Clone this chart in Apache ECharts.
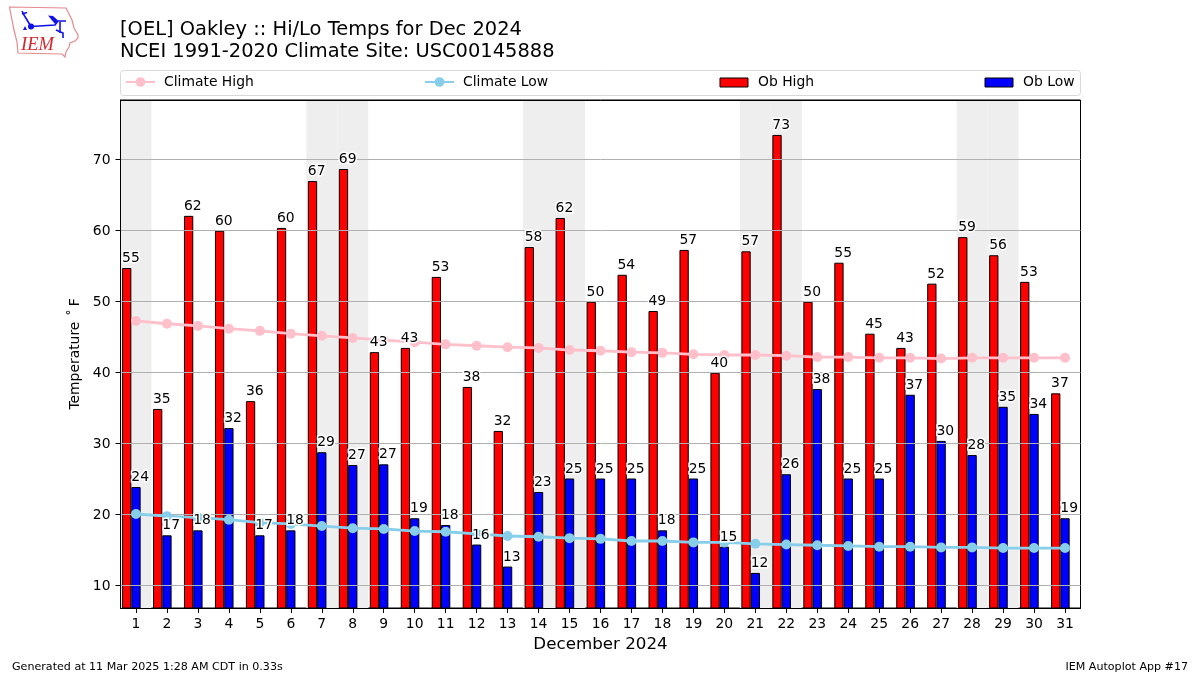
<!DOCTYPE html>
<html>
<head>
<meta charset="utf-8">
<style>html,body{margin:0;padding:0;background:#fff}#c{width:1200px;height:675px}</style>
<script src="https://cdn.jsdelivr.net/npm/echarts@6/dist/echarts.min.js"></script>
</head>
<body>
<div id="c"></div>
<script>
const days = ['1','2','3','4','5','6','7','8','9','10','11','12','13','14','15','16','17','18','19','20','21','22','23','24','25','26','27','28','29','30','31'];
const obHigh = [54.65,34.8,62.0,59.9,35.9,60.3,66.9,68.6,42.8,43.4,53.4,37.9,31.7,57.6,61.7,49.9,53.7,48.6,57.2,39.9,57.0,73.4,49.9,55.4,45.4,43.4,52.45,59.0,56.45,52.7,37.0];
const obLow = [23.8,17.0,17.7,32.1,17.0,17.7,28.7,26.9,27.0,19.4,18.45,15.7,12.6,23.1,25.0,25.0,25.0,17.7,25.0,15.4,11.7,25.6,37.6,25.0,25.0,36.8,30.3,28.3,35.1,34.1,19.4];
const climateHigh = [47.2,46.8,46.5,46.1,45.8,45.4,45.1,44.8,44.5,44.2,43.9,43.7,43.5,43.4,43.1,43.0,42.8,42.7,42.5,42.4,42.4,42.3,42.1,42.1,42.0,42.0,41.9,42.0,42.0,42.0,42.0];
const climateLow = [20.0,19.7,19.5,19.2,18.8,18.6,18.3,18.0,17.9,17.6,17.5,17.2,16.9,16.8,16.6,16.5,16.2,16.2,16.0,16.0,15.8,15.7,15.6,15.5,15.4,15.4,15.3,15.3,15.2,15.2,15.2];
const weekendDays = ['1','7','8','14','15','21','22','28','29'];
const yTicks = [10,20,30,40,50,60,70];
const yMin = 6.76, yMax = 78.32;

const FONT = '"DejaVu Sans"';
const shade = days.map(d => weekendDays.includes(d) ? yMax : null);
const valueLabel = {
  show: true, position: [0, -16.5], align: 'left', verticalAlign: 'top',
  fontFamily: FONT, fontSize: 13.9, color: '#000',
  textBorderColor: '#fff', textBorderWidth: 3,
  formatter: p => String(Math.round(p.value))
};
const labelBar = (name, data) => ({
  name, type: 'bar', xAxisIndex: 2, yAxisIndex: 0, data, z: 5, silent: true,
  barWidth: '30%', barGap: 0,
  itemStyle: { color: 'rgba(0,0,0,0)', borderWidth: 0 }, label: valueLabel
});
const obBar = (name, data, color) => ({
  name, type: 'bar', xAxisIndex: 0, yAxisIndex: 0, data, z: 2,
  barWidth: '30%', barGap: 0,
  itemStyle: { color, borderColor: '#000', borderWidth: 1 }
});
const climateLine = (name, data, color) => ({
  name, type: 'line', xAxisIndex: 0, yAxisIndex: 0, data, z: 4,
  symbol: 'circle', symbolSize: 10, showAllSymbol: true,
  lineStyle: { color, width: 2.8 }, itemStyle: { color }
});
const legendText = { fontFamily: FONT, fontSize: 13.9, color: '#000', padding: [0, 0, 2, 4] };
const barLegendText = { fontFamily: FONT, fontSize: 13.9, color: '#000', padding: [0, 0, 2, 5] };
const hiddenCat = extra => Object.assign({ type: 'category', data: days, gridIndex: 0, show: false }, extra);
const blue = '#1010e8';
const bluePath = pts => ({ type: 'polyline', shape: { points: pts }, style: { stroke: blue, lineWidth: 1.6, fill: 'none' } });

const option = {
  animation: false,
  backgroundColor: '#fff',
  title: {
    text: '[OEL] Oakley :: Hi/Lo Temps for Dec 2024\nNCEI 1991-2020 Climate Site: USC00145888',
    left: 120, top: 18.5, padding: 0,
    textStyle: { fontFamily: FONT, fontSize: 19.45, fontWeight: 'normal', color: '#000', lineHeight: 22.5 }
  },
  legend: [
    { data: ['Climate High'], left: 125, top: 75, itemWidth: 29, itemHeight: 12, textStyle: legendText, padding: 0 },
    { data: ['Climate Low'], left: 424, top: 75, itemWidth: 29, itemHeight: 12, textStyle: legendText, padding: 0 },
    { data: ['Ob High'], left: 719.5, top: 75.5, icon: 'rect', itemWidth: 28, itemHeight: 9, itemStyle: { borderWidth: 1 }, textStyle: barLegendText, padding: 0 },
    { data: ['Ob Low'], left: 984.5, top: 75.5, icon: 'rect', itemWidth: 28, itemHeight: 9, itemStyle: { borderWidth: 1 }, textStyle: barLegendText, padding: 0 }
  ],
  grid: { left: 120.5, right: 119.5, top: 100, bottom: 67, show: true, borderColor: '#000', borderWidth: 1, backgroundColor: '#fff' },
  xAxis: [
    { type: 'category', data: days, z: 3, boundaryGap: true,
      name: 'December 2024', nameLocation: 'middle', nameGap: 28,
      nameTextStyle: { fontFamily: FONT, fontSize: 16.7, color: '#000' },
      axisLine: { show: true, lineStyle: { color: '#000', width: 1 } },
      axisTick: { show: true, alignWithLabel: true, length: 5, lineStyle: { color: '#000' } },
      axisLabel: { interval: 0, margin: 9, fontFamily: FONT, fontSize: 13.9, color: '#000' },
      splitLine: { show: false } },
    hiddenCat({ show: true, position: 'top', z: 3,
      axisLine: { show: true, lineStyle: { color: '#000', width: 1 } },
      axisTick: { show: false }, axisLabel: { show: false }, splitLine: { show: false } }),
    hiddenCat({})
  ],
  yAxis: [{
    type: 'value', min: yMin, max: yMax, z: 3,
    name: 'Temperature\u2009\u2009˚\u2009F', nameLocation: 'middle', nameGap: 35,
    nameTextStyle: { fontFamily: FONT, fontSize: 13.9, color: '#000' },
    axisLine: { show: true, lineStyle: { color: '#000', width: 1 } },
    axisTick: { show: true, length: 5, customValues: yTicks, lineStyle: { color: '#000' } },
    axisLabel: { margin: 10, customValues: yTicks, color: '#000',
      formatter: v => '{t|' + v + '}',
      rich: { t: { fontFamily: FONT, fontSize: 13.9, color: '#000', padding: [3, 0, 0, 0] } } },
    splitLine: { show: true, lineStyle: { color: '#b0b0b0', width: 1 } }
  }],
  series: [
    { name: 'Weekend', type: 'bar', xAxisIndex: 1, yAxisIndex: 0, data: shade, z: 1, silent: true,
      barWidth: '100%', itemStyle: { color: '#eeeeee', borderWidth: 0 } },
    climateLine('Climate High', climateHigh, '#ffc0cb'),
    climateLine('Climate Low', climateLow, '#87ceeb'),
    obBar('Ob High', obHigh, '#ff0000'),
    obBar('Ob Low', obLow, '#0000ff'),
    { name: 'spacer', type: 'bar', xAxisIndex: 0, yAxisIndex: 0, data: [], barWidth: '30%', barGap: 0 },
    labelBar('High labels', obHigh),
    labelBar('Low labels', obLow),
    { name: 'label spacer', type: 'bar', xAxisIndex: 2, yAxisIndex: 0, data: [], barWidth: '30%', barGap: 0 }
  ],
  graphic: { elements: [
    { type: 'rect', z: -1, shape: { x: 120.5, y: 70.5, width: 960, height: 25, r: 3 }, style: { fill: '#fff', stroke: '#d9d9d9', lineWidth: 1 } },
    { type: 'text', left: 12, top: 662, style: { text: 'Generated at 11 Mar 2025 1:28 AM CDT in 0.33s', font: '11.1px "DejaVu Sans"', fill: '#000' } },
    { type: 'text', right: 12, top: 662, style: { text: 'IEM Autoplot App #17', font: '11.1px "DejaVu Sans"', fill: '#000' } },
    { type: 'polygon', shape: { points: [[9.5,7],[66,8],[68,12],[72,20],[74,28],[78,35],[78,38],[75,41],[70,43],[69,47],[66,52],[65,57],[62,54],[18,53],[17,42],[14,30],[12,20]] },
      style: { stroke: '#e58a8f', lineWidth: 1.2, fill: '#fff' } },
    bluePath([[31,26.5],[24,15],[22,11]]),
    bluePath([[22,14],[27,12.5]]),
    bluePath([[31,26.5],[55,25],[58,21],[66,21]]),
    bluePath([[60,22],[60,33]]),
    bluePath([[56,30],[63,33],[63,38]]),
    { type: 'circle', shape: { cx: 31, cy: 26.5, r: 3 }, style: { fill: blue } },
    { type: 'polygon', shape: { points: [[48,15.5],[53,16],[58,20.5],[55,24]] }, style: { fill: blue } },
    { type: 'polygon', shape: { points: [[23,30],[27,30],[25,26]] }, style: { fill: blue } },
    { type: 'text', left: 21, top: 36, style: { text: 'IEM', font: 'italic 18.5px "Liberation Serif"', fill: '#d6262b' } }
  ] }
};
const chart = echarts.init(document.getElementById('c'), null, { renderer: 'canvas' });
chart.setOption(option);
</script>
</body>
</html>
